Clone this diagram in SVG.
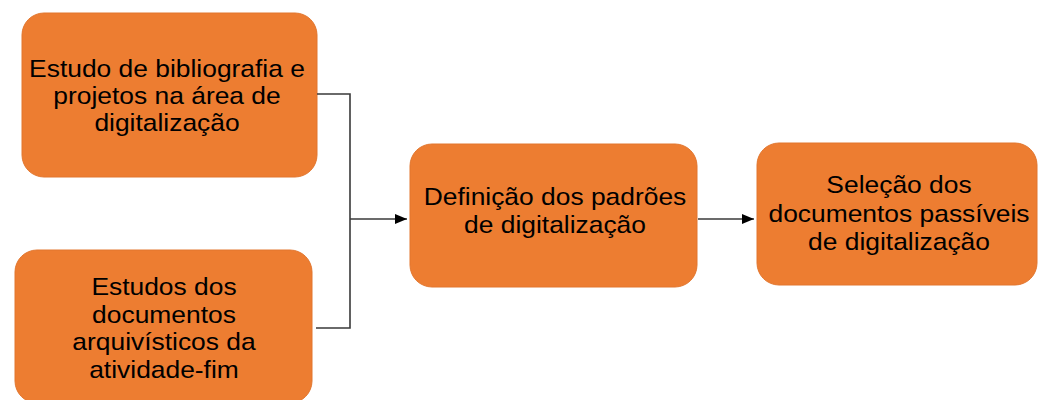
<svg xmlns="http://www.w3.org/2000/svg" width="1042" height="400" viewBox="0 0 1042 400">
<style>
.box{fill:#ED7D31;stroke:#E2762E;stroke-width:1}
.t{font-family:"Liberation Sans",Arial,sans-serif;font-size:24px;fill:#000;text-anchor:middle}
.c{fill:none;stroke:#3a3a3a;stroke-width:1.6}
</style>
<defs>
<marker id="ah" viewBox="0 0 12 10" refX="12" refY="5" markerWidth="12" markerHeight="10" markerUnits="userSpaceOnUse" orient="auto">
<path d="M0,0 L12,5 L0,10 Z" fill="#000"/>
</marker>
</defs>
<rect width="1042" height="400" fill="#fff"/>
<g id="n1">
<rect class="box" x="22" y="13" width="295" height="164" rx="22"/>
<g transform="translate(167,0) scale(1.1,1)">
<text class="t" x="0" y="77">Estudo de bibliografia e</text>
<text class="t" x="0" y="104">projetos na área de</text>
<text class="t" x="0" y="131">digitalização</text>
</g>
</g>
<g id="n2">
<rect class="box" x="15" y="250" width="297" height="153" rx="22"/>
<g transform="translate(164,0) scale(1.1,1)">
<text class="t" x="0" y="295">Estudos dos</text>
<text class="t" x="0" y="323">documentos</text>
<text class="t" x="0" y="350">arquivísticos da</text>
<text class="t" x="0" y="378">atividade-fim</text>
</g>
</g>
<g id="n3">
<rect class="box" x="410" y="144" width="287" height="143" rx="22"/>
<g transform="translate(555,0) scale(1.1,1)">
<text class="t" x="0" y="205">Definição dos padrões</text>
<text class="t" x="0" y="233">de digitalização</text>
</g>
</g>
<g id="n4">
<rect class="box" x="757" y="143" width="280" height="142" rx="22"/>
<g transform="translate(899,0) scale(1.1,1)">
<text class="t" x="0" y="193">Seleção dos</text>
<text class="t" x="0" y="222">documentos passíveis</text>
<text class="t" x="0" y="250">de digitalização</text>
</g>
</g>
<g id="connectors">
<polyline class="c" points="317,94 350,94 350,328 316,328"/>
<line class="c" x1="350" y1="219" x2="407" y2="219" marker-end="url(#ah)"/>
<line class="c" x1="698" y1="219" x2="754" y2="219" marker-end="url(#ah)"/>
</g>
</svg>
